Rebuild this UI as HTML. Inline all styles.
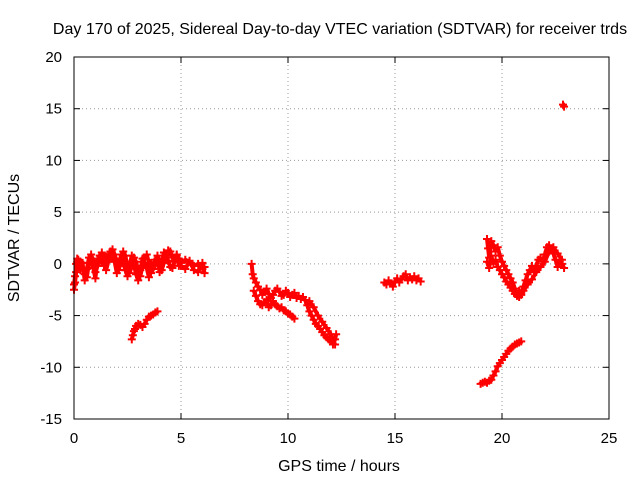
<!DOCTYPE html>
<html><head><meta charset="utf-8"><style>
body{margin:0;background:#fff;font-family:"Liberation Sans",sans-serif}
svg text{font-family:"Liberation Sans",sans-serif;font-size:15px;fill:#000}
svg text.big{font-size:16px}
</style></head><body>
<svg id="c" width="640" height="480">
<rect width="640" height="480" fill="#fff"/>
<text class="big" x="340" y="34" text-anchor="middle">Day 170 of 2025, Sidereal Day-to-day VTEC variation (SDTVAR) for receiver trds</text>
<text class="big" x="339" y="471" text-anchor="middle">GPS time / hours</text>
<text class="big" transform="translate(19,238) rotate(-90)" text-anchor="middle">SDTVAR / TECUs</text>
<g id="grid"></g><g id="ticks"></g><g id="marks"></g>
<rect x="74" y="57" width="535" height="362" fill="none" stroke="#000" stroke-width="1"/>
</svg>
<script>
const xTicks=[0,5,10,15,20,25];
const yTicks=[-15,-10,-5,0,5,10,15,20];
const segMainT=[0,0.05,0.1,0.15,0.2,0.3,0.4,0.5,0.6,0.7,0.8,0.9,1.0,1.1,1.2,1.3,1.4,1.5,1.6,1.7,1.8,1.9,2.0,2.1,2.2,2.3,2.4,2.5,2.6,2.7,2.8,2.9,3.0,3.1,3.2,3.3,3.4,3.5,3.6,3.7,3.8,3.9,4.0,4.1,4.2,4.3,4.4,4.5,4.6,4.7,4.8,4.9,5.0,5.2,5.4,5.6,5.8,6.0,6.1];
const segMainV=[-2.5,-1.8,-0.8,0.2,0.4,0.2,-0.4,-1.0,-0.5,0.6,0.9,0.3,-0.8,-0.2,0.8,1.1,0.5,-0.6,0.2,1.2,1.4,0.9,0.2,-0.6,0.5,1.2,0.8,-0.3,-0.9,-0.2,0.6,0.2,-0.8,-1.2,-0.2,0.6,0.9,0.1,-0.9,-0.5,0.4,0.8,0.2,-0.6,0.1,0.9,1.3,1.2,0.6,0.3,0.8,0.5,0.1,0.4,0.2,-0.2,0.0,-0.5,-0.3];
const segMainV2=[-2.0,-1.2,0.0,0.5,-0.3,-0.6,0.1,-1.6,-1.3,0.1,0.2,-0.4,-1.4,0.5,0.3,0.2,-0.2,0.7,0.9,0.5,0.6,0.2,-0.9,-0.2,0.9,0.1,-0.6,-1.2,-0.1,0.8,-0.1,-1.0,-1.6,-0.6,0.5,0.1,-0.4,-1.3,0.1,-0.1,-0.2,0.5,-0.8,0.2,1.1,0.8,0.3,-0.3,-0.4,0.2,0.9,-0.2,-0.2,-0.5,0.3,-0.6,-0.8,0.1,-0.9];
const segBT=[2.7,2.75,2.8,2.85,2.9,3.0,3.1,3.2,3.3,3.4,3.5,3.6,3.7,3.8,3.9];
const segBV=[-7.3,-6.9,-6.5,-6.3,-6.0,-5.8,-5.9,-6.1,-5.8,-5.4,-5.1,-5.0,-4.9,-4.7,-4.6];
const segCT=[8.3,8.35,8.4,8.5,8.6,8.7,8.8,8.9,9.0,9.1,9.2,9.3,9.4,9.5,9.6,9.7,9.8,9.9,10.0,10.1,10.2,10.3,10.4,10.5,10.6,10.7,10.8,10.9,11.0,11.1,11.2,11.3,11.4,11.5,11.6,11.7,11.8,11.9,12.0,12.1,12.2,12.25];
const segCV=[0.0,-1.0,-1.4,-1.8,-2.2,-2.5,-3.0,-2.7,-2.4,-2.9,-3.3,-3.0,-2.6,-2.4,-2.7,-3.1,-3.0,-2.6,-2.8,-3.2,-3.0,-2.8,-3.3,-3.1,-3.4,-3.2,-3.5,-4.0,-4.6,-5.0,-5.4,-5.8,-6.0,-6.3,-6.6,-6.9,-7.1,-7.3,-7.5,-7.8,-7.3,-6.8];
const segC2T=[8.4,8.5,8.6,8.7,8.8,8.9,9.0,9.1,9.2,9.3,9.4,9.5,9.6,9.7,9.8,9.9,10.0,10.1,10.2,10.3,11.0,11.2,11.4,11.6,11.8,12.0,12.2];
const segC2V=[-2.6,-3.1,-3.6,-3.9,-4.0,-3.7,-3.5,-4.2,-4.0,-3.6,-3.9,-4.1,-4.3,-4.2,-4.5,-4.6,-4.8,-4.9,-5.1,-5.3,-3.6,-4.2,-5.0,-5.6,-6.2,-6.8,-7.8];
const segDT=[14.5,14.6,14.7,14.8,14.9,15.0,15.1,15.2,15.3,15.4,15.5,15.6,15.7,15.8,15.9,16.0,16.1,16.2];
const segDV=[-1.8,-2.0,-1.6,-1.9,-2.2,-1.7,-1.4,-1.8,-1.5,-1.2,-1.0,-1.6,-1.3,-1.5,-1.2,-1.6,-1.4,-1.7];
const segET=[19.3,19.35,19.4,19.5,19.6,19.7,19.8,19.9,20.0,20.1,20.2,20.3,20.4,20.5,20.6,20.7,20.8,20.9,21.0,21.1,21.2,21.3,21.4,21.5,21.6,21.7,21.8,21.9,22.0,22.1,22.2,22.3,22.4,22.5,22.6,22.7,22.8,22.9];
const segEV=[2.4,1.5,0.6,2.2,1.8,1.2,1.6,0.8,0.2,-0.2,-0.6,-1.0,-1.4,-1.8,-2.4,-3.0,-2.6,-2.8,-2.2,-1.6,-1.0,-0.6,-0.2,-0.8,-0.2,0.4,0.6,0.2,0.9,1.6,1.8,1.4,1.0,0.4,-0.3,0.2,0.0,-0.4];
const segE2T=[19.3,19.4,19.5,19.6,19.7,19.8,19.9,20.0,20.1,20.2,20.3,20.4,20.5,20.6,20.7,20.8,20.9,21.0,21.2,21.4,21.6,21.8,22.0,22.2,22.4,22.6,22.8];
const segE2V=[0.2,-0.4,0.8,0.0,0.4,-0.3,-0.6,-1.0,-1.3,-1.7,-2.0,-2.3,-2.6,-2.9,-3.1,-3.2,-3.0,-2.6,-2.0,-1.5,-0.8,-0.3,0.2,1.2,1.6,1.0,0.4];
const segFT=[19.0,19.1,19.2,19.3,19.4,19.5,19.6,19.7,19.8,19.9,20.0,20.1,20.2,20.3,20.4,20.5,20.6,20.7,20.8,20.9];
const segFV=[-11.6,-11.5,-11.4,-11.5,-11.3,-11.2,-10.8,-10.4,-9.9,-9.6,-9.3,-9.0,-8.7,-8.4,-8.2,-8.0,-7.8,-7.7,-7.6,-7.5];
const segGT=[22.85,22.9];
const segGV=[15.4,15.2];

const X=t=>74+t*(535/25), Y=v=>57+(20-v)*(362/35);
const NS='http://www.w3.org/2000/svg';
const grid=document.getElementById('grid'),ticks=document.getElementById('ticks'),marks=document.getElementById('marks');
function mk(tag,attrs,parent){const e=document.createElementNS(NS,tag);for(const k in attrs)e.setAttribute(k,attrs[k]);parent.appendChild(e);return e;}
xTicks.forEach(t=>{const x=X(t);
 if(t>0&&t<25){const g=mk('line',{x1:x,x2:x,y1:57,y2:419,stroke:'#999','stroke-dasharray':'1,3'},grid);
 
 }
 mk('line',{x1:x,x2:x,y1:419,y2:413,stroke:'#000'},ticks);mk('line',{x1:x,x2:x,y1:57,y2:63,stroke:'#000'},ticks);
 const l=mk('text',{x:x,y:443,'text-anchor':'middle'},ticks);l.textContent=t;
 
 });
yTicks.forEach(v=>{const y=Y(v);
 if(v>-15&&v<20){const g=mk('line',{x1:74,x2:609,y1:y,y2:y,stroke:'#999','stroke-dasharray':'1,3'},grid);
 
 }
 mk('line',{x1:74,x2:80,y1:y,y2:y,stroke:'#000'},ticks);mk('line',{x1:603,x2:609,y1:y,y2:y,stroke:'#000'},ticks);
 const l=mk('text',{x:62,y:y+5,'text-anchor':'end'},ticks);l.textContent=v;
 
 });
const series=[[segMainT,segMainV],[segMainT,segMainV2],[segBT,segBV],[segCT,segCV],[segC2T,segC2V],[segDT,segDV],[segET,segEV],[segE2T,segE2V],[segFT,segFV],[segGT,segGV]];
series.forEach(([ts,vs])=>{ts.forEach((t,i)=>{
 const x=X(t),y=Y(vs[i]);
 const p=mk('path',{d:`M${x-4} ${y}h8M${x} ${y-4}v8`,stroke:'#f00','stroke-width':2},marks);
 
 
 if(i>0){const x0=X(ts[i-1]),y0=Y(vs[i-1]);
  if(Math.abs(t-ts[i-1])<0.3){const s=mk('path',{d:`M${x0} ${y0}L${x} ${y}`,stroke:'#f00','stroke-width':4},marks);
  
  }}
});});
</script>
</body></html>
